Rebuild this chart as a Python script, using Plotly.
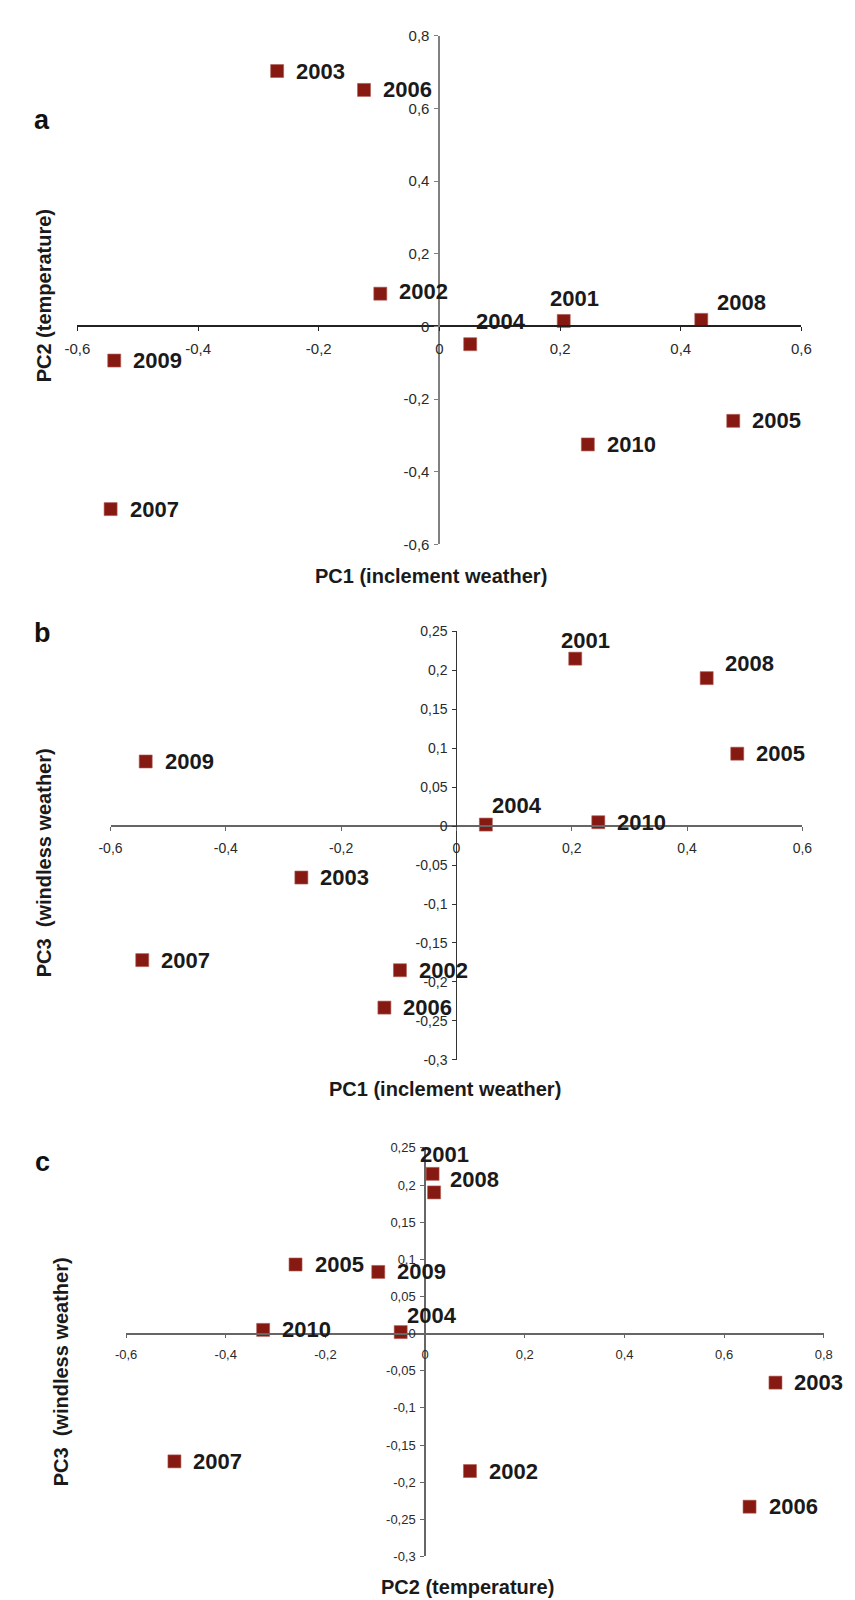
import plotly.graph_objects as go

# ---------------- data ----------------
years = ["2001", "2002", "2003", "2004", "2005", "2006", "2007", "2008", "2009", "2010"]
pc1 = [0.206, -0.098, -0.269, 0.051, 0.487, -0.125, -0.545, 0.434, -0.539, 0.246]
pc2 = [0.015, 0.090, 0.703, -0.049, -0.260, 0.651, -0.503, 0.018, -0.094, -0.325]
pc3 = [0.215, -0.185, -0.066, 0.002, 0.093, -0.233, -0.172, 0.190, 0.083, 0.005]

ticks_pc1 = [-0.6, -0.4, -0.2, 0, 0.2, 0.4, 0.6]
ticks_pc2_a = [-0.6, -0.4, -0.2, 0, 0.2, 0.4, 0.6, 0.8]
ticks_pc2_c = [-0.6, -0.4, -0.2, 0, 0.2, 0.4, 0.6, 0.8]
ticks_pc3 = [-0.3, -0.25, -0.2, -0.15, -0.1, -0.05, 0, 0.05, 0.1, 0.15, 0.2, 0.25]

title_pc1 = "PC1 (inclement weather)"
title_pc2 = "PC2 (temperature)"
title_pc3 = "PC3  (windless weather)"

W, H = 855, 1600


def fmt(v):
    s = f"{v:.2f}".rstrip("0").rstrip(".")
    if s in ("-0", ""):
        s = "0"
    return s.replace(".", ",")


def px_x(p):
    return p / W


def px_y(p):
    return 1 - p / H


# panel geometry (pixel extents of axis ranges)
panels = [
    dict(x=pc1, y=pc2, xr=[-0.6, 0.6], yr=[-0.6, 0.8], xpx=[58, 802], ypx=[533, 19],
         xt=ticks_pc1, yt=ticks_pc2_a, tfs=15, xtitle=title_pc1, ytitle=title_pc2,
         xtitle_pos=(421, 565), ytitle_pos=(24, 282), letter="a", letter_pos=(22, 104),
         xline=("#222222", 1.5), yline=("#808080", 2),
         special={"2004": ("left", 4, 23), "2001": ("center", 11, 22),
                  "2008": ("left", 14, 17), "2002": ("left", 17, 2)}),
    dict(x=pc1, y=pc3, xr=[-0.6, 0.6], yr=[-0.3, 0.25], xpx=[92, 803], ypx=[1054, 621],
         xt=ticks_pc1, yt=ticks_pc3, tfs=14, xtitle=title_pc1, ytitle=title_pc3,
         xtitle_pos=(436, 1084), ytitle_pos=(24, 855), letter="b", letter_pos=(22, 623),
         xline=("#666666", 1.8), yline=("#333333", 1.3),
         special={"2001": ("center", 10, 18), "2008": ("left", 16, 15),
                  "2004": ("left", 4, 19)}),
    dict(x=pc2, y=pc3, xr=[-0.6, 0.8], yr=[-0.3, 0.25], xpx=[108, 825], ypx=[1556, 1143],
         xt=ticks_pc2_c, yt=ticks_pc3, tfs=13, xtitle=title_pc2, ytitle=title_pc3,
         xtitle_pos=(459, 1587), ytitle_pos=(42, 1369), letter="c", letter_pos=(22, 1157),
         xline=("#666666", 1.6), yline=("#666666", 1.6),
         special={"2001": ("center", 12, 19), "2008": ("left", 14, 13),
                  "2004": ("left", 4, 17)}),
]

fig = go.Figure()
annotations = []
layout_axes = {}

for i, p in enumerate(panels, start=1):
    xs = "" if i == 1 else str(i)
    xd = [px_x(p["xpx"][0]), px_x(p["xpx"][1])]
    yd = [px_y(p["ypx"][0]), px_y(p["ypx"][1])]
    # positions of the crossing axes (value 0)
    xpos = yd[0] + (0 - p["yr"][0]) / (p["yr"][1] - p["yr"][0]) * (yd[1] - yd[0])
    ypos = xd[0] + (0 - p["xr"][0]) / (p["xr"][1] - p["xr"][0]) * (xd[1] - xd[0])

    layout_axes["xaxis" + xs] = dict(
        domain=xd, range=p["xr"], anchor="free", position=xpos,
        showline=True, linecolor=p["xline"][0], linewidth=p["xline"][1],
        ticks="outside", ticklen=4, tickwidth=1, tickcolor=p["xline"][0],
        tickvals=p["xt"], ticktext=[fmt(v) for v in p["xt"]],
        tickfont=dict(size=p["tfs"], color="#2a2a2a", family="Liberation Sans"),
        ticklabelstandoff=5,
        showgrid=False, zeroline=False, fixedrange=True,
    )
    layout_axes["yaxis" + xs] = dict(
        domain=yd, range=p["yr"], anchor="free", position=ypos,
        showline=True, linecolor=p["yline"][0], linewidth=p["yline"][1],
        ticks="outside", ticklen=4, tickwidth=1, tickcolor=p["yline"][0],
        tickvals=p["yt"], ticktext=[fmt(v) for v in p["yt"]],
        tickfont=dict(size=p["tfs"], color="#2a2a2a", family="Liberation Sans"),
        ticklabelstandoff=2,
        showgrid=False, zeroline=False, fixedrange=True,
    )

    fig.add_trace(go.Scatter(
        x=p["x"], y=p["y"], mode="markers",
        marker=dict(symbol="square", size=13, color="#861a12",
                    line=dict(width=0.6, color="#b05a52")),
        xaxis="x" + xs, yaxis="y" + xs, hoverinfo="text", text=years,
        cliponaxis=False,
    ))

    for yr, xv, yv in zip(years, p["x"], p["y"]):
        xa, xsft, ysft = p["special"].get(yr, ("left", 17, 0))
        annotations.append(dict(
            x=xv, y=yv, xref="x" + xs, yref="y" + xs, text=yr, showarrow=False,
            xanchor=xa, yanchor="middle", xshift=xsft, yshift=ysft,
            font=dict(size=22, color="#1a1a1a", family="Liberation Sans"),
        ))
        annotations[-1]["text"] = "<b>" + yr + "</b>"

    annotations.append(dict(
        x=px_x(p["xtitle_pos"][0]), y=px_y(p["xtitle_pos"][1]), xref="paper", yref="paper",
        text="<b>" + p["xtitle"] + "</b>", showarrow=False, xanchor="center", yanchor="middle",
        font=dict(size=20, color="#1a1a1a", family="Liberation Sans"),
    ))
    annotations.append(dict(
        x=px_x(p["ytitle_pos"][0]), y=px_y(p["ytitle_pos"][1]), xref="paper", yref="paper",
        text="<b>" + p["ytitle"] + "</b>", showarrow=False, xanchor="center", yanchor="middle",
        textangle=-90,
        font=dict(size=20, color="#1a1a1a", family="Liberation Sans"),
    ))
    annotations.append(dict(
        x=px_x(p["letter_pos"][0]), y=px_y(p["letter_pos"][1]), xref="paper", yref="paper",
        text="<b>" + p["letter"] + "</b>", showarrow=False, xanchor="center", yanchor="middle",
        font=dict(size=27, color="#111111", family="Liberation Sans"),
    ))

fig.update_layout(
    width=W, height=H, margin=dict(l=0, r=0, t=0, b=0),
    paper_bgcolor="white", plot_bgcolor="white", showlegend=False,
    font=dict(family="Liberation Sans"),
    annotations=annotations,
    **layout_axes,
)

fig.write_html("out.html")
